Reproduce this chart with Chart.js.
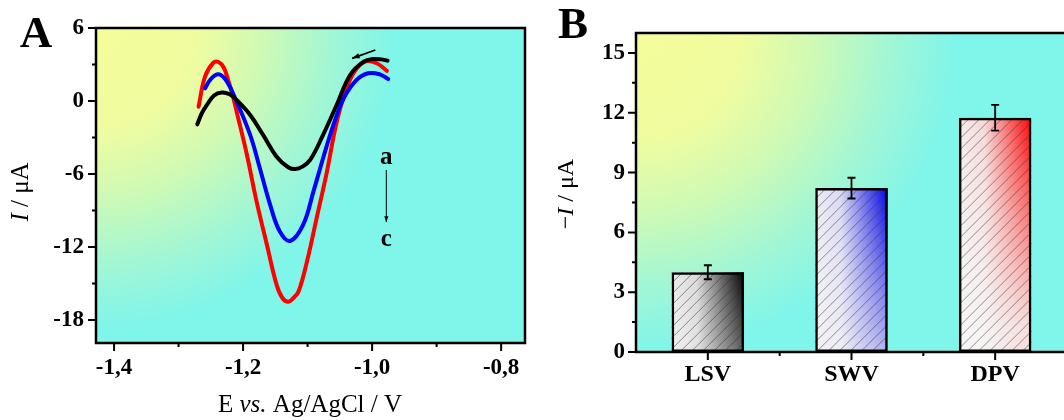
<!DOCTYPE html>
<html>
<head>
<meta charset="utf-8">
<script src="https://cdn.jsdelivr.net/npm/chart.js@4/dist/chart.umd.min.js"></script>
<style>
html,body{margin:0;padding:0;background:#fff;overflow:hidden;width:1064px;height:420px;}
#graficoA{position:absolute;left:0;top:0;}
#graficoB{position:absolute;left:520px;top:0;}
</style>
</head>
<body>
<canvas id="graficoA" width="530" height="420"></canvas>
<canvas id="graficoB" width="570" height="420"></canvas>
<script>
// ---- panel A: voltamogramas a (negro), b (azul), c (rojo) ----
const potA = [-1.271,-1.264,-1.256,-1.245,-1.233,-1.221,-1.210,-1.189,-1.169,-1.148,-1.130,-1.119,-1.108,-1.096,-1.076,-1.055,-1.034,-1.013,-0.998,-0.986,-0.976]
const curA = [-1.92,-1.01,-0.33,0.45,0.70,0.55,0.08,-1.15,-2.79,-4.58,-5.45,-5.60,-5.40,-4.85,-2.79,-0.33,2.14,3.23,3.45,3.42,3.31]
const potB = [-1.259,-1.250,-1.238,-1.225,-1.210,-1.189,-1.174,-1.158,-1.143,-1.127,-1.107,-1.091,-1.076,-1.060,-1.044,-1.024,-1.006,-0.988,-0.975]
const curB = [1.04,1.80,2.19,1.59,-0.06,-2.79,-5.53,-8.55,-10.74,-11.51,-10.19,-7.45,-4.71,-1.97,0.22,1.73,2.28,2.19,1.81]
const potC = [-1.269,-1.259,-1.246,-1.238,-1.230,-1.223,-1.215,-1.210,-1.194,-1.179,-1.163,-1.148,-1.139,-1.130,-1.122,-1.114,-1.101,-1.086,-1.070,-1.057,-1.044,-1.029,-1.011,-0.993,-0.977]
const curC = [-0.47,2.00,3.15,3.20,2.75,1.70,0.22,-0.88,-4.44,-8.28,-11.84,-15.12,-16.20,-16.50,-16.20,-15.67,-13.21,-9.64,-5.81,-2.24,0.35,2.28,3.23,3.10,2.47]

const marcasEA = [-1.4,-1.2,-1.0,-0.8]
const etiquetasEA = ['-1,4','-1,2','-1,0','-0,8']
const menoresEA = [-1.3,-1.1,-0.9]
const marcasIA = [-18,-12,-6,0,6]
const menoresIA = [-15,-9,-3,3]

// ---- panel B: corriente de pico por técnica ----
const tecnicas = ['LSV','SWV','DPV']
const corriente = [4.0, 8.22, 11.75]
const errorCorr = [0.35, 0.52, 0.65]
const marcasIB = [0,3,6,9,12,15]
const menoresIB = [1.5,4.5,7.5,10.5,13.5]
const menoresCat = [0.5,1.5]

const fuente = "'Liberation Serif', 'Times New Roman', serif"
const coloresBarra = [[0,0,0],[0,0,230],[255,0,0]]

function puntos(xs, ys){ return xs.map((x,i) => ({x:x, y:ys[i]})) }

function fondo(radio){
    return {
        id:'fondo',
        beforeDraw(chart){
            const {ctx, chartArea:a} = chart
            const g = ctx.createRadialGradient(a.left, a.top, 0, a.left, a.top, radio)
            g.addColorStop(0, '#f5fd9a')
            g.addColorStop(0.33, '#f0fca0')
            g.addColorStop(0.55, '#d0fab4')
            g.addColorStop(0.8, '#a0f6d6')
            g.addColorStop(1, '#80f5ea')
            ctx.save()
            ctx.fillStyle = g
            ctx.fillRect(a.left, a.top, a.right-a.left, a.bottom-a.top)
            ctx.restore()
        }
    }
}

// marco negro y marcas de los ejes (mayores y menores)
function marco(m){
    return {
        id:'marco',
        afterDatasetsDraw(chart){
            const {ctx, chartArea:a, scales} = chart
            ctx.save()
            ctx.strokeStyle = '#000'
            ctx.lineWidth = 2.5
            ctx.strokeRect(a.left, a.top, a.right-a.left, a.bottom-a.top)
            ctx.lineWidth = 2
            ctx.beginPath()
            const xm = (vals, largo) => vals.forEach(v => {
                const p = scales.x.getPixelForValue(v)
                ctx.moveTo(p, a.bottom); ctx.lineTo(p, a.bottom + largo)
            })
            const ym = (vals, largo) => vals.forEach(v => {
                const p = scales.y.getPixelForValue(v)
                ctx.moveTo(a.left, p); ctx.lineTo(a.left - largo, p)
            })
            xm(m.xMay, 8); xm(m.xMen, 4)
            ym(m.yMay, 8); ym(m.yMen, 4)
            ctx.stroke()
            ctx.restore()
        }
    }
}

function textoMixto(ctx, partes, x, y, size){
    let total = 0
    partes.forEach(([t, e]) => { ctx.font = e + ' ' + size + 'px ' + fuente; total += ctx.measureText(t).width })
    let cx = x - total/2
    ctx.textAlign = 'left'
    ctx.textBaseline = 'alphabetic'
    partes.forEach(([t, e]) => {
        ctx.font = e + ' ' + size + 'px ' + fuente
        ctx.fillText(t, cx, y)
        cx += ctx.measureText(t).width
    })
}

function flecha(ctx, x1, y1, x2, y2, cabeza){
    const ang = Math.atan2(y2-y1, x2-x1)
    ctx.beginPath(); ctx.moveTo(x1,y1); ctx.lineTo(x2,y2); ctx.stroke()
    ctx.beginPath()
    ctx.moveTo(x2, y2)
    ctx.lineTo(x2 - cabeza*Math.cos(ang-0.35), y2 - cabeza*Math.sin(ang-0.35))
    ctx.lineTo(x2 - cabeza*Math.cos(ang+0.35), y2 - cabeza*Math.sin(ang+0.35))
    ctx.closePath(); ctx.fill()
}

const textosA = {
    id:'textosA',
    afterDraw(chart){
        const {ctx, scales} = chart
        const X = v => scales.x.getPixelForValue(v), Y = v => scales.y.getPixelForValue(v)
        ctx.save()
        ctx.fillStyle = '#000'; ctx.strokeStyle = '#000'
        ctx.font = 'bold 45px ' + fuente
        ctx.textAlign = 'center'; ctx.textBaseline = 'alphabetic'
        ctx.fillText('A', 36, 47)
        textoMixto(ctx, [['E ', 'normal'], ['vs.', 'italic'], [' Ag/AgCl / V', 'normal']], 310, 412, 25)
        ctx.save()
        ctx.translate(28, 192); ctx.rotate(-Math.PI/2)
        textoMixto(ctx, [['I', 'italic'], [' / μA', 'normal']], 0, 0, 25)
        ctx.restore()
        // flecha de barrido
        ctx.lineWidth = 1.8
        flecha(ctx, X(-0.995), Y(4.19), X(-1.031), Y(3.51), 8)
        // a -> c
        ctx.font = 'bold 25px ' + fuente
        ctx.textAlign = 'center'
        ctx.fillText('a', X(-0.978), Y(-5.2))
        ctx.fillText('c', X(-0.978), Y(-11.95))
        ctx.lineWidth = 1
        flecha(ctx, X(-0.978), Y(-5.67), X(-0.978), Y(-9.95), 6)
        ctx.restore()
    }
}

const datosA = {
    datasets: [
        {label:'a', data: puntos(potA, curA), borderColor:'#000000', order:0},
        {label:'b', data: puntos(potB, curB), borderColor:'#0000ff', order:1},
        {label:'c', data: puntos(potC, curC), borderColor:'#ff0000', order:2}
    ]
}

new Chart(document.getElementById('graficoA'), {
    type:'line',
    data: datosA,
    options:{
        responsive:false, animation:false,
        layout:{padding:{top:28, right:5, left:0, bottom:0}},
        elements:{line:{borderWidth:4, tension:0.4, borderJoinStyle:'round', borderCapStyle:'round'}, point:{radius:0}},
        plugins:{legend:{display:false}, tooltip:{enabled:false}},
        scales:{
            x:{type:'linear', min:-1.428, max:-0.763,
               grid:{display:false, drawTicks:true, tickLength:8}, border:{display:false},
               afterBuildTicks: s => { s.ticks = marcasEA.map(v => ({value:v})) },
               afterFit: s => { s.height = 77 },
               ticks:{color:'#000', padding:3, autoSkip:false, maxRotation:0,
                      font:{family:fuente, size:23, weight:'bold'},
                      callback: (v, i) => etiquetasEA[i]}},
            y:{type:'linear', min:-19.9, max:6,
               grid:{display:false, drawTicks:true, tickLength:8}, border:{display:false},
               afterBuildTicks: s => { s.ticks = marcasIA.map(v => ({value:v})) },
               afterFit: s => { s.width = 96 },
               ticks:{color:'#000', padding:4, font:{family:fuente, size:23, weight:'bold'}}}
        }
    },
    plugins:[fondo(300), marco({xMay:marcasEA, xMen:menoresEA, yMay:marcasIA, yMen:menoresIA}), textosA]
})

// relleno de barras: color que crece hacia la derecha y se desvanece hacia abajo + rayado
const rellenoBarras = {
    id:'relleno',
    beforeDatasetsDraw(chart){
        const ctx = chart.ctx
        const meta = chart.getDatasetMeta(0)
        meta.data.forEach((barra, i) => {
            const {x, y, base, width} = barra.getProps(['x','y','base','width'], true)
            const l = x - width/2, r = x + width/2, t = y, b = base
            const w = Math.round(width), h = Math.round(b - t)
            const c = coloresBarra[i].join(',')
            // capa de color en un lienzo aparte
            const capa = document.createElement('canvas')
            capa.width = w; capa.height = h
            const cc = capa.getContext('2d')
            const gh = cc.createLinearGradient(0, 0, w, 0)
            gh.addColorStop(0, 'rgba(' + c + ',0.04)')
            gh.addColorStop(0.35, 'rgba(' + c + ',0.12)')
            gh.addColorStop(0.7, 'rgba(' + c + ',0.6)')
            gh.addColorStop(1, 'rgba(' + c + ',1)')
            cc.fillStyle = gh
            cc.fillRect(0, 0, w, h)
            cc.globalCompositeOperation = 'destination-in'
            const gv = cc.createLinearGradient(0, 0, 0, 210)
            gv.addColorStop(0, 'rgba(0,0,0,1)')
            gv.addColorStop(0.45, 'rgba(0,0,0,0.55)')
            gv.addColorStop(1, 'rgba(0,0,0,0.1)')
            cc.fillStyle = gv
            cc.fillRect(0, 0, w, h)

            ctx.save()
            ctx.beginPath(); ctx.rect(l, t, width, b-t); ctx.clip()
            ctx.fillStyle = '#f6f6f6'
            ctx.fillRect(l, t, width, b-t)
            ctx.drawImage(capa, l, t, width, b-t)
            ctx.strokeStyle = 'rgba(50,50,50,0.75)'
            ctx.lineWidth = 0.7
            ctx.beginPath()
            for (let k = l - (b-t); k < r + 12; k += 11){
                ctx.moveTo(k, b); ctx.lineTo(k + (b-t), t)
            }
            ctx.stroke()
            ctx.restore()
        })
    }
}

const barrasError = {
    id:'errores',
    afterDatasetsDraw(chart){
        const {ctx, scales} = chart
        const meta = chart.getDatasetMeta(0)
        ctx.save()
        ctx.strokeStyle = '#000'
        ctx.lineWidth = 1.8
        ctx.beginPath()
        meta.data.forEach((barra, i) => {
            const x = barra.x
            const y1 = scales.y.getPixelForValue(corriente[i] + errorCorr[i])
            const y2 = scales.y.getPixelForValue(corriente[i] - errorCorr[i])
            ctx.moveTo(x, y1); ctx.lineTo(x, y2)
            ctx.moveTo(x-4, y1); ctx.lineTo(x+4, y1)
            ctx.moveTo(x-4, y2); ctx.lineTo(x+4, y2)
        })
        ctx.stroke()
        ctx.restore()
    }
}

const textosB = {
    id:'textosB',
    afterDraw(chart){
        const ctx = chart.ctx
        ctx.save()
        ctx.fillStyle = '#000'
        ctx.font = 'bold 45px ' + fuente
        ctx.textAlign = 'center'; ctx.textBaseline = 'alphabetic'
        ctx.fillText('B', 53, 38)
        ctx.translate(53, 194); ctx.rotate(-Math.PI/2)
        textoMixto(ctx, [['\u2212', 'normal'], ['I', 'italic'], [' / μA', 'normal']], 0, 0, 24)
        ctx.restore()
    }
}

new Chart(document.getElementById('graficoB'), {
    type:'bar',
    data:{
        labels: tecnicas,
        datasets:[{data: corriente, backgroundColor:'rgba(0,0,0,0)', borderColor:'#000',
                   borderWidth:2.5, borderSkipped:false,
                   barPercentage:0.505, categoryPercentage:1}]
    },
    options:{
        responsive:false, animation:false,
        layout:{padding:{top:33, right:23, left:0, bottom:0}},
        plugins:{legend:{display:false}, tooltip:{enabled:false}},
        scales:{
            x:{grid:{display:false, drawTicks:true, tickLength:8}, border:{display:false},
               afterFit: s => { s.height = 68 },
               ticks:{color:'#000', padding:0, font:{family:fuente, size:24, weight:'bold'}}},
            y:{type:'linear', min:0, max:16,
               grid:{display:false, drawTicks:true, tickLength:8}, border:{display:false},
               afterBuildTicks: s => { s.ticks = marcasIB.map(v => ({value:v})) },
               afterFit: s => { s.width = 116 },
               ticks:{color:'#000', padding:3, font:{family:fuente, size:23, weight:'bold'}}}
        }
    },
    plugins:[fondo(320), rellenoBarras, marco({xMay:[0,1,2], xMen:menoresCat, yMay:marcasIB, yMen:menoresIB}), barrasError, textosB]
})
</script>
</body>
</html>
